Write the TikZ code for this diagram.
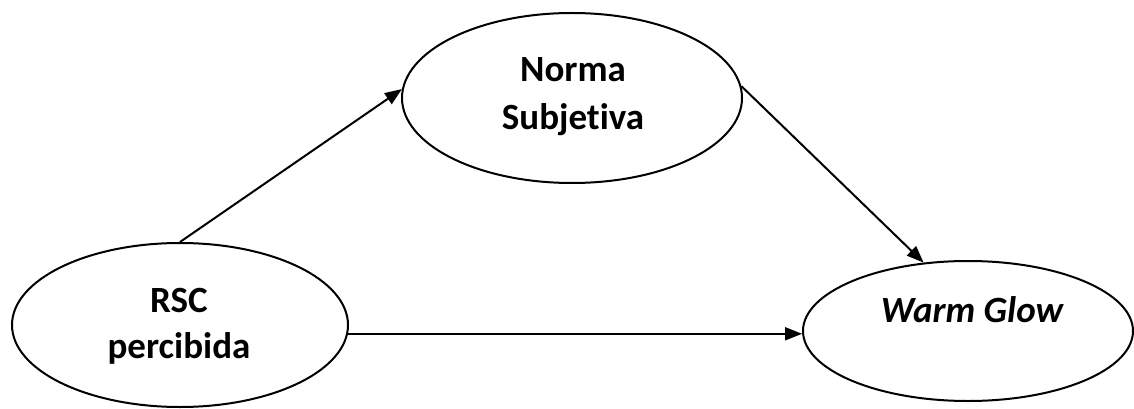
\documentclass[tikz,border=0pt]{standalone}
\usepackage{fontspec}
\setmainfont{Carlito}[Ligatures={NoCommon}]
\usetikzlibrary{shapes.geometric,arrows.meta}
\begin{document}
\begin{tikzpicture}[x=1pt,y=-1pt,
  construct/.style={ellipse,draw,line width=2pt,inner sep=0pt},
  label/.style={anchor=base,inner sep=0pt,font=\fontsize{37}{47}\selectfont\bfseries},
  path/.style={line width=2pt,-{Triangle[length=17pt,width=13pt]}}]
  \useasboundingbox (0,0) rectangle (1134,409);
  % constructs
  \node[construct,minimum width=336pt,minimum height=164pt] (rsc) at (180,325) {};
  \node[construct,minimum width=340pt,minimum height=170pt] (norma) at (572,98) {};
  \node[construct,minimum width=330pt,minimum height=140pt] (warm) at (968,331) {};
  % labels
  \node[label] (rscA) at (179,312) {RSC};
  \node[label] (rscB) at (179,358) {percibida};
  \node[label] (normaA) at (573,82) {Norma};
  \node[label] (normaB) at (573,129) {Subjetiva};
  \node[label,font=\fontsize{37}{47}\selectfont\bfseries\itshape] (warmA) at (972,322) {Warm Glow};
  % paths
  \draw[path] (rsc.north) -- (norma.177);
  \draw[path] (norma.4) -- (warm.123);
  \draw[path] (rsc.-3) -- (rsc.-3 -| warm.west);
\end{tikzpicture}
\end{document}
